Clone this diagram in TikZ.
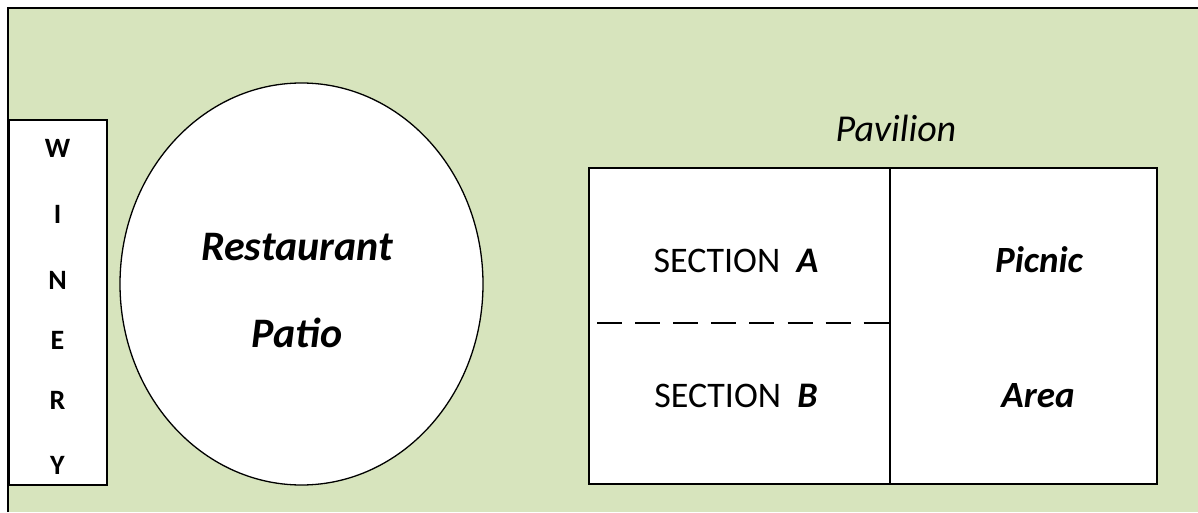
\documentclass[tikz,border=0pt]{standalone}
\usepackage{fontspec}
\setmainfont{Carlito}
\usetikzlibrary{shapes.geometric}
\definecolor{lawn}{RGB}{215,228,189}
\tikzset{
  zone/.style={draw=black, fill=white, line width=1.5pt, inner sep=0pt},
  bi/.style={font=\bfseries\itshape\fontsize{42}{44}\selectfont, anchor=base, inner sep=0pt},
  sect/.style={font=\fontsize{36}{38}\selectfont, anchor=base, inner sep=0pt},
  wl/.style={font=\bfseries\fontsize{28}{30}\selectfont, anchor=base, inner sep=0pt}
}
\begin{document}
\begin{tikzpicture}[x=1pt,y=1pt]
\useasboundingbox (0,0) rectangle (1198,512);
\fill[lawn] (8,0) rectangle (1198,504);
\draw[line width=2pt] (8,0) -- (8,504) -- (1198,504);
% Winery
\node[zone, minimum width=98pt, minimum height=365pt] (winery) at (58,209.5) {};
\foreach \c/\y [count=\i] in {W/354,I/288,N/223,E/163,R/103,Y/38}
  \node[wl] (w\i) at (57.5,\y) {\c};
% Restaurant patio
\node[zone, ellipse, line width=1.3pt, minimum width=363pt, minimum height=402pt] (patio) at (301.5,228) {};
\node[bi] (rest) at (297,252) {Restaurant};
\node[bi] (pat) at (297,165) {Patio};
% Pavilion
\node[zone, minimum width=301pt, minimum height=316pt] (pav) at (739.5,186) {};
\node[zone, minimum width=267pt, minimum height=316pt] (pic) at (1023.5,186) {};
\coordinate (dl) at (597,189);
\coordinate (dr) at (pav.east |- dl);
\draw[line width=1.2pt, dash pattern=on 25pt off 13.1pt] (dl) -- (dr);
\node[font=\itshape\fontsize{38}{40}\selectfont, anchor=base, inner sep=0pt] (pavt) at (896,370) {Pavilion};
\node[sect] (sa) at (736,240) {SECTION\ \ \textbf{\textit{A}}};
\node[sect] (sb) at (736,105) {SECTION\ \ \textbf{\textit{B}}};
\node[sect, font=\bfseries\itshape\fontsize{37}{39}\selectfont] (pn) at (1039,240) {Picnic};
\node[sect, font=\bfseries\itshape\fontsize{37}{39}\selectfont] (ar) at (1038,105) {Area};
\end{tikzpicture}
\end{document}
